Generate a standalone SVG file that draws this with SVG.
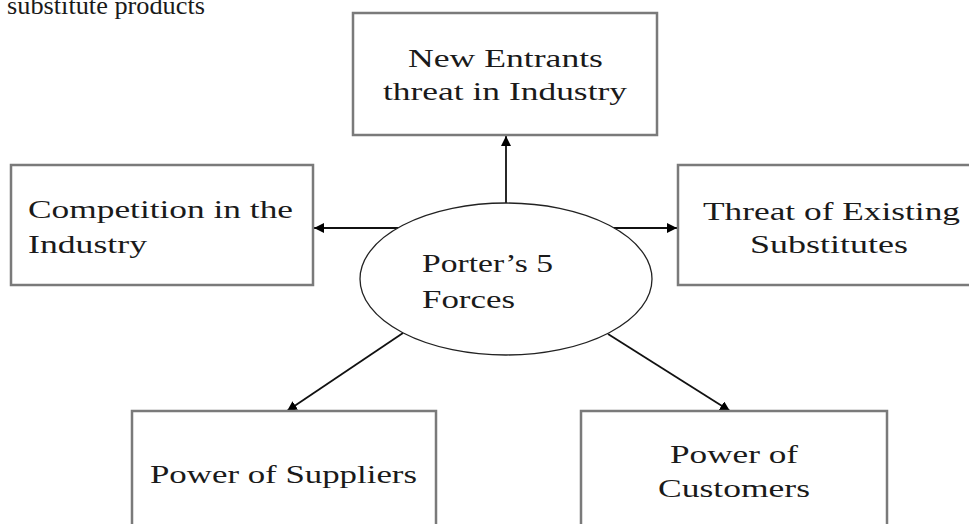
<svg xmlns="http://www.w3.org/2000/svg" width="969" height="524" viewBox="0 0 969 524">
<defs>
<style>
.box{fill:#fff;stroke:#7a7a7a;stroke-width:2.5}
.ell{fill:#fff;stroke:#222;stroke-width:1.3}
.t{font-family:"Liberation Serif","Times New Roman",serif;font-size:26px;fill:#1a1a1a}
.c{fill:none;stroke:#111;stroke-width:1.8}
</style>
<marker id="ah" viewBox="0 0 10 10" refX="10" refY="5" markerWidth="10" markerHeight="10" markerUnits="userSpaceOnUse" orient="auto">
<path d="M0,0 L10,5 L0,10 z" fill="#000"/>
</marker>
</defs>
<rect width="969" height="524" fill="#fff"/>
<text class="t" x="7" y="14" textLength="198" lengthAdjust="spacingAndGlyphs">substitute products</text>

<g id="connectors">
<line class="c" x1="506" y1="203" x2="506" y2="136" marker-end="url(#ah)"/>
<line class="c" x1="399" y1="228" x2="314" y2="228" marker-end="url(#ah)"/>
<line class="c" x1="613" y1="228" x2="677" y2="228" marker-end="url(#ah)"/>
<line class="c" x1="403" y1="333" x2="287" y2="411" marker-end="url(#ah)"/>
<line class="c" x1="608" y1="334" x2="730" y2="411" marker-end="url(#ah)"/>
</g>

<g id="new-entrants">
<rect class="box" x="353" y="13" width="304" height="122"/>
<text class="t" x="408" y="67" textLength="195" lengthAdjust="spacingAndGlyphs">New Entrants</text>
<text class="t" x="383" y="100" textLength="244" lengthAdjust="spacingAndGlyphs">threat in Industry</text>
</g>

<g id="competition">
<rect class="box" x="11" y="165" width="302" height="120"/>
<text class="t" x="28" y="218" textLength="265" lengthAdjust="spacingAndGlyphs">Competition in the</text>
<text class="t" x="28" y="253" textLength="119" lengthAdjust="spacingAndGlyphs">Industry</text>
</g>

<g id="substitutes">
<rect class="box" x="678" y="165" width="310" height="120"/>
<text class="t" x="703" y="220" textLength="257" lengthAdjust="spacingAndGlyphs">Threat of Existing</text>
<text class="t" x="750" y="253" textLength="158" lengthAdjust="spacingAndGlyphs">Substitutes</text>
</g>

<g id="porter">
<ellipse class="ell" cx="506" cy="279" rx="146" ry="76"/>
<text class="t" x="422" y="272" textLength="131" lengthAdjust="spacingAndGlyphs">Porter’s 5</text>
<text class="t" x="422" y="308" textLength="93" lengthAdjust="spacingAndGlyphs">Forces</text>
</g>

<g id="suppliers">
<rect class="box" x="132" y="411" width="304" height="130"/>
<text class="t" x="150" y="483" textLength="267" lengthAdjust="spacingAndGlyphs">Power of Suppliers</text>
</g>

<g id="customers">
<rect class="box" x="581" y="411" width="306" height="130"/>
<text class="t" x="670" y="463" textLength="128" lengthAdjust="spacingAndGlyphs">Power of</text>
<text class="t" x="658" y="497" textLength="152" lengthAdjust="spacingAndGlyphs">Customers</text>
</g>
</svg>
